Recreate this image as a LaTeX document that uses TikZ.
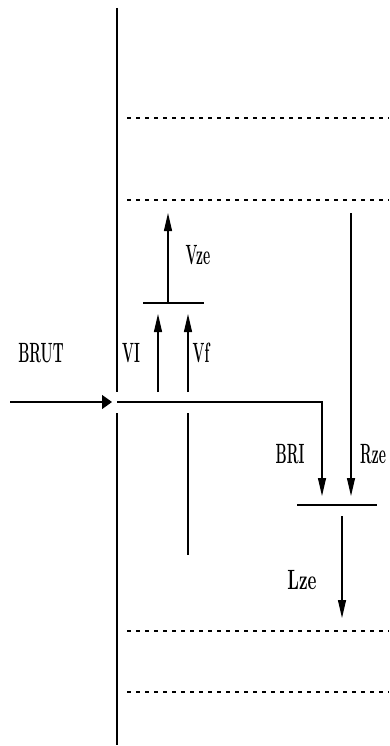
\documentclass[tikz,border=0pt]{standalone}
\usepackage{graphicx}
\usetikzlibrary{arrows.meta}
\tikzset{
  vtip/.style={-{Triangle[length=18bp,width=8bp]}},
  htip/.style={-{Triangle[length=10bp,width=14bp]}},
  level/.style={dash pattern=on 4bp off 5bp, line width=1.3bp},
  lbl/.style={inner sep=0pt, font=\fontsize{28}{30}\selectfont\bfseries},
}
\newcommand{\narrowtxt}[1]{\scalebox{0.5}[1]{#1}}

\begin{document}
\begin{tikzpicture}[x=1bp, y=-1bp, line width=1.2bp]
    \useasboundingbox (0,0) rectangle (389,746);
    % storage levels
    \foreach \yy in {118,200,631,692}
        \draw[level] (127,\yy) -- (389,\yy);
    % main axis, broken where the input crosses
    \coordinate (axisTop) at (117,8);
    \coordinate (axisGapA) at (117,392);
    \coordinate (axisGapB) at (117,413);
    \coordinate (axisBot) at (117,745);
    \draw (axisTop) -- (axisGapA);
    \draw (axisGapB) -- (axisBot);
    % input
    \coordinate (inStart) at (10,402);
    \coordinate (inEnd) at (112,402);
    \coordinate (inAxis) at (117,402);
    \coordinate (bend) at (322,402);
    \coordinate (briEnd) at (322,496);
    \draw[htip] (inStart) -- (inEnd);
    \draw[vtip] (inAxis) -- (bend) -- (briEnd);
    % upward fluxes
    \coordinate (vlStart) at (158,392);
    \coordinate (vlEnd) at (158,314);
    \coordinate (vfStart) at (188,392);
    \coordinate (vfEnd) at (188,314);
    \coordinate (vfLowA) at (188,413);
    \coordinate (vfLowB) at (188,555);
    \draw[vtip] (vlStart) -- (vlEnd);
    \draw[vtip] (vfStart) -- (vfEnd);
    \draw (vfLowA) -- (vfLowB);
    \coordinate (barUpL) at (143,303);
    \coordinate (barUpR) at (204,303);
    \coordinate (vzeStart) at (168,303);
    \coordinate (vzeEnd) at (168,213);
    \draw (barUpL) -- (barUpR);
    \draw[vtip] (vzeStart) -- (vzeEnd);
    % downward fluxes
    \coordinate (rzeStart) at (351,213);
    \coordinate (rzeEnd) at (351,496);
    \draw[vtip] (rzeStart) -- (rzeEnd);
    \coordinate (barLowL) at (297,505);
    \coordinate (barLowR) at (377,505);
    \coordinate (lzeStart) at (342,516);
    \coordinate (lzeEnd) at (342,618);
    \draw (barLowL) -- (barLowR);
    \draw[vtip] (lzeStart) -- (lzeEnd);
    % labels
    \node[lbl] (brut) at (41,353) {\narrowtxt{BRUT}};
    \node[lbl] (vl) at (131,353) {\narrowtxt{VI}};
    \node[lbl] (vf) at (201,353) {\narrowtxt{Vf}};
    \node[lbl] (vze) at (198,255) {\narrowtxt{Vze}};
    \node[lbl] (bri) at (290,454) {\narrowtxt{BRI}};
    \node[lbl] (rze) at (373,454) {\narrowtxt{Rze}};
    \node[lbl] (lze) at (302,580) {\scalebox{0.62}[1]{Lze}};
\end{tikzpicture}
\end{document}
